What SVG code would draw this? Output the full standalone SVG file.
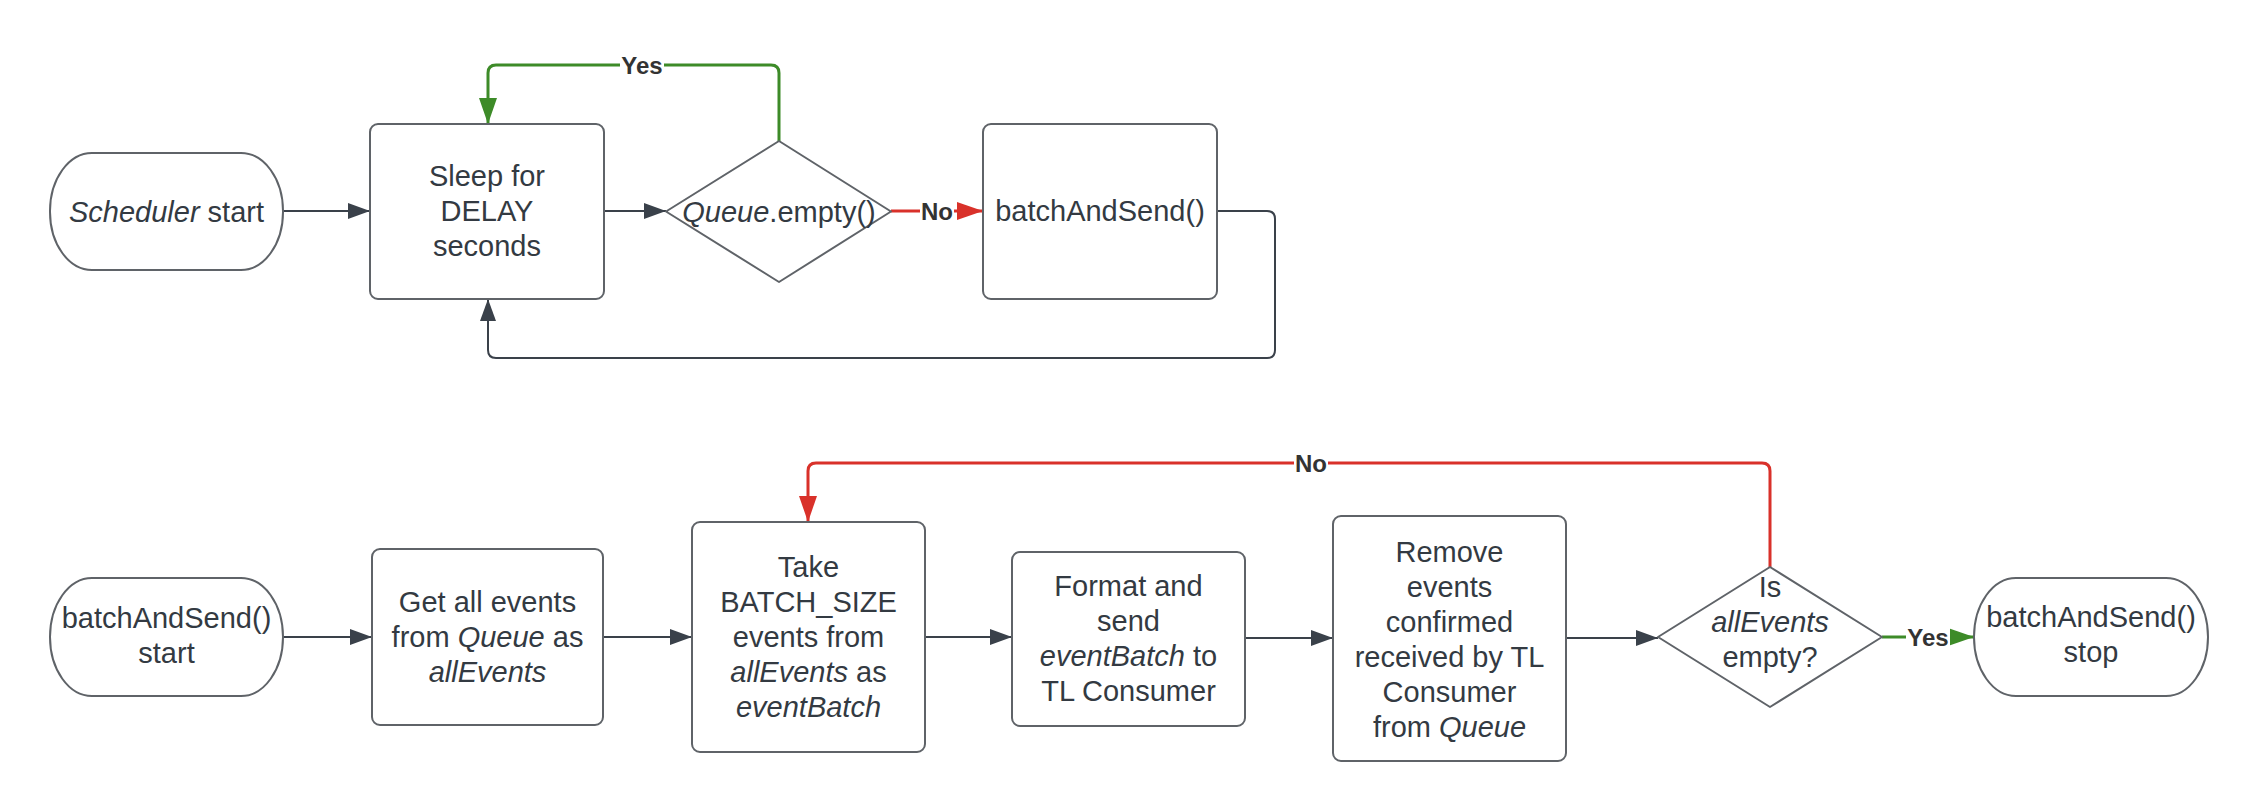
<svg xmlns="http://www.w3.org/2000/svg" width="2254" height="806" viewBox="0 0 2254 806">
<style>
.node{fill:#ffffff;stroke:#5f6368;stroke-width:2;stroke-linejoin:round}
.t{font-family:"Liberation Sans",Arial,sans-serif;font-size:29px;fill:#333a42;text-anchor:middle}
.i{font-style:italic}
.lbl{font-family:"Liberation Sans",Arial,sans-serif;font-size:24px;font-weight:bold;fill:#333333;text-anchor:middle}
.c{fill:none;stroke:#3a414a;stroke-width:2}
.red{fill:none;stroke:#d9312a;stroke-width:3}
.green{fill:none;stroke:#3d8b28;stroke-width:3}
.bg{fill:#ffffff}
</style>
<defs>
<marker id="ag" markerUnits="userSpaceOnUse" markerWidth="22" markerHeight="16" refX="22" refY="8" orient="auto"><path d="M0,0 L22,8 L0,16 z" fill="#3a414a"/></marker>
<marker id="ar" markerUnits="userSpaceOnUse" markerWidth="26" markerHeight="18" refX="26" refY="9" orient="auto"><path d="M0,0 L26,9 L0,18 z" fill="#d9312a"/></marker>
<marker id="agr" markerUnits="userSpaceOnUse" markerWidth="26" markerHeight="18" refX="26" refY="9" orient="auto"><path d="M0,0 L26,9 L0,18 z" fill="#3d8b28"/></marker>
</defs>

<g id="connectors">
<path class="c" d="M283,211 H370" marker-end="url(#ag)"/>
<path class="c" d="M604,211 H666" marker-end="url(#ag)"/>
<path class="green" d="M779,141 V73 Q779,65 771,65 H496 Q488,65 488,73 V124" marker-end="url(#agr)"/>
<rect class="bg" x="620" y="52" width="44" height="26"/>
<text class="lbl" x="642" y="73.5">Yes</text>
<path class="red" d="M891,211 H983" marker-end="url(#ar)"/>
<rect class="bg" x="920" y="198" width="34" height="26"/>
<text class="lbl" x="937" y="219.5">No</text>
<path class="c" d="M1217,211 H1267 Q1275,211 1275,219 V350 Q1275,358 1267,358 H496 Q488,358 488,350 V299" marker-end="url(#ag)"/>

<path class="c" d="M283,637 H372" marker-end="url(#ag)"/>
<path class="c" d="M603,637 H692" marker-end="url(#ag)"/>
<path class="c" d="M925,637 H1012" marker-end="url(#ag)"/>
<path class="c" d="M1245,638 H1333" marker-end="url(#ag)"/>
<path class="c" d="M1566,638 H1658" marker-end="url(#ag)"/>
<path class="red" d="M1770,567 V471 Q1770,463 1762,463 H816 Q808,463 808,471 V522" marker-end="url(#ar)"/>
<rect class="bg" x="1294" y="450" width="34" height="26"/>
<text class="lbl" x="1311" y="471.5">No</text>
<path class="green" d="M1882,637 H1974" marker-end="url(#agr)"/>
<rect class="bg" x="1906" y="624" width="44" height="26"/>
<text class="lbl" x="1928" y="645.5">Yes</text>
</g>

<g id="scheduler-start">
<rect class="node" x="50" y="153" width="233" height="117" rx="42" ry="58"/>
<text class="t" x="166.5" y="221.5"><tspan class="i">Scheduler</tspan> start</text>
</g>

<g id="sleep">
<rect class="node" x="370" y="124" width="234" height="175" rx="8"/>
<text class="t" x="487" y="186">Sleep for</text>
<text class="t" x="487" y="221">DELAY</text>
<text class="t" x="487" y="256">seconds</text>
</g>

<g id="queue-empty">
<path class="node" d="M779,141 L891,211.5 L779,282 L666,211.5 Z"/>
<text class="t" x="779" y="222"><tspan class="i">Queue</tspan>.empty()</text>
</g>

<g id="batch-call">
<rect class="node" x="983" y="124" width="234" height="175" rx="8"/>
<text class="t" x="1100" y="221">batchAndSend()</text>
</g>

<g id="batch-start">
<rect class="node" x="50" y="578" width="233" height="118" rx="42" ry="59"/>
<text class="t" x="166.5" y="628">batchAndSend()</text>
<text class="t" x="166.5" y="663">start</text>
</g>

<g id="get-all">
<rect class="node" x="372" y="549" width="231" height="176" rx="8"/>
<text class="t" x="487.5" y="612">Get all events</text>
<text class="t" x="487.5" y="647">from <tspan class="i">Queue</tspan> as</text>
<text class="t i" x="487.5" y="682">allEvents</text>
</g>

<g id="take-batch">
<rect class="node" x="692" y="522" width="233" height="230" rx="8"/>
<text class="t" x="808.5" y="577">Take</text>
<text class="t" x="808.5" y="612">BATCH_SIZE</text>
<text class="t" x="808.5" y="647">events from</text>
<text class="t" x="808.5" y="682"><tspan class="i">allEvents</tspan> as</text>
<text class="t i" x="808.5" y="717">eventBatch</text>
</g>

<g id="format-send">
<rect class="node" x="1012" y="552" width="233" height="174" rx="8"/>
<text class="t" x="1128.5" y="596">Format and</text>
<text class="t" x="1128.5" y="631">send</text>
<text class="t" x="1128.5" y="666"><tspan class="i">eventBatch</tspan> to</text>
<text class="t" x="1128.5" y="701">TL Consumer</text>
</g>

<g id="remove-events">
<rect class="node" x="1333" y="516" width="233" height="245" rx="8"/>
<text class="t" x="1449.5" y="562">Remove</text>
<text class="t" x="1449.5" y="597">events</text>
<text class="t" x="1449.5" y="632">confirmed</text>
<text class="t" x="1449.5" y="667">received by TL</text>
<text class="t" x="1449.5" y="702">Consumer</text>
<text class="t" x="1449.5" y="737">from <tspan class="i">Queue</tspan></text>
</g>

<g id="all-events-empty">
<path class="node" d="M1770,567 L1882,637 L1770,707 L1658,637 Z"/>
<text class="t" x="1770" y="597">Is</text>
<text class="t i" x="1770" y="632">allEvents</text>
<text class="t" x="1770" y="667">empty?</text>
</g>

<g id="batch-stop">
<rect class="node" x="1974" y="578" width="234" height="118" rx="42" ry="59"/>
<text class="t" x="2091" y="627">batchAndSend()</text>
<text class="t" x="2091" y="662">stop</text>
</g>
</svg>
